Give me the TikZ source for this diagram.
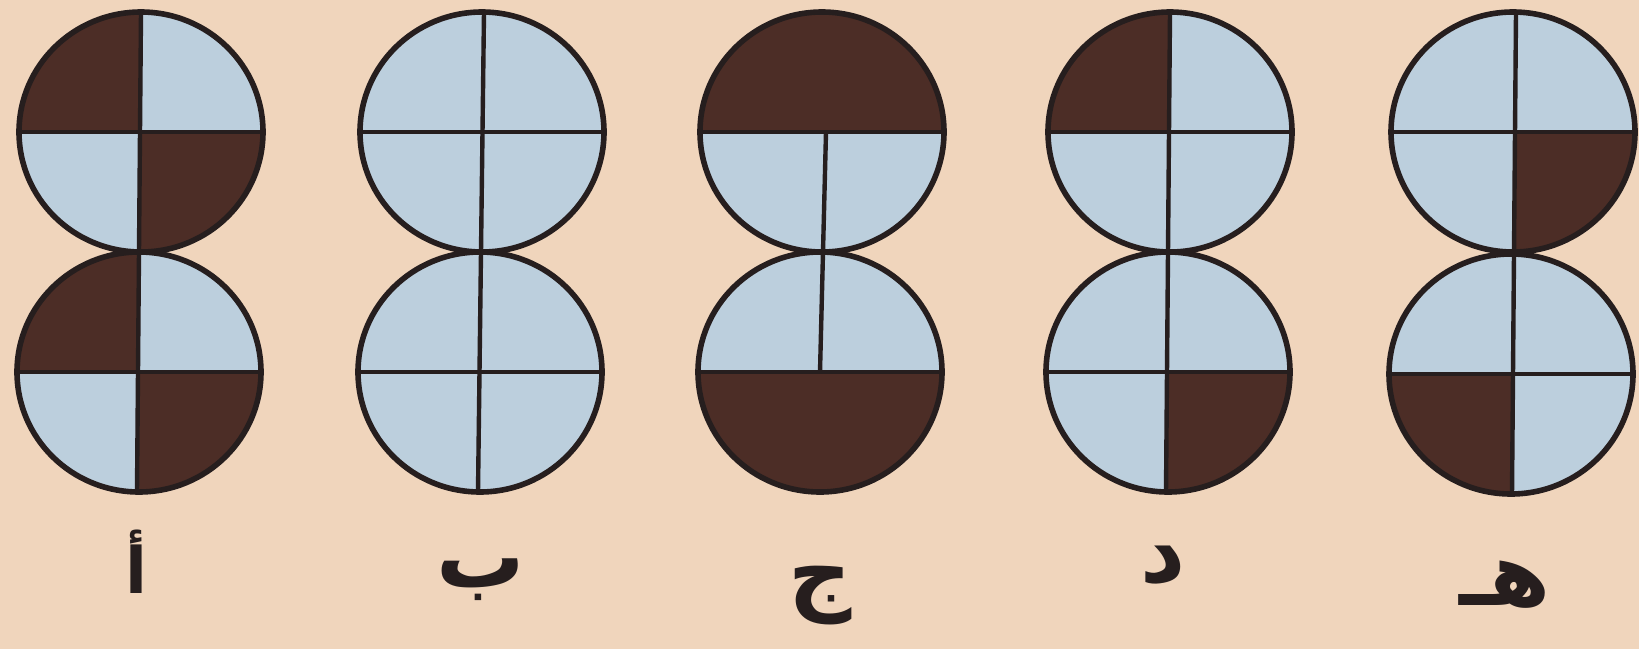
\documentclass[tikz,border=0pt]{standalone}
\usepackage{fontspec}
\newfontfamily\arabicfont[Script=Arabic]{DejaVu Sans}
\TeXXeTstate=1
\definecolor{bg}{RGB}{240,213,188}
\definecolor{lb}{RGB}{188,207,221}
\definecolor{dk}{RGB}{76,45,38}
\definecolor{ln}{RGB}{38,30,30}
\tikzset{x=0.5pt,y=-0.5pt,
  rim/.style={draw=ln,line width=2.8pt},
  cross/.style={draw=ln,line width=2.2pt},
  lbl/.style={font=\arabicfont\bfseries\fontsize{44}{50}\selectfont,text=ln,inner sep=0pt},
  lblsmall/.style={font=\arabicfont\bfseries\fontsize{32}{38}\selectfont,text=ln,inner sep=0pt}}
% #1 x, #2 y, #3 TL, #4 TR, #5 BL, #6 BR
\newcommand\quaddisc[6]{%
  \begin{scope}
    \clip (#1,#2) ellipse [x radius=122, y radius=120];
    \fill[#3] (#1-130,#2-130) rectangle (#1,#2);
    \fill[#4] (#1,#2-130) rectangle (#1+130,#2);
    \fill[#5] (#1-130,#2) rectangle (#1,#2+130);
    \fill[#6] (#1,#2) rectangle (#1+130,#2+130);
  \end{scope}}
\newcommand\rimdisc[2]{\draw[rim] (#1,#2) ellipse [x radius=122, y radius=120];}
\begin{document}
\begin{tikzpicture}
\fill[bg] (0,0) rectangle (1639,649);
\useasboundingbox (0,0) rectangle (1639,649);
% ---- A
\quaddisc{141}{132}{dk}{lb}{lb}{dk}
\quaddisc{139}{372}{dk}{lb}{lb}{dk}
\draw[cross] (19,132) -- (263,132);
\draw[cross] (17,372) -- (261,372);
\draw[cross] (141,12) -- (137,492);
\rimdisc{141}{132}\rimdisc{139}{372}
% ---- B
\quaddisc{482}{132}{lb}{lb}{lb}{lb}
\quaddisc{480}{372}{lb}{lb}{lb}{lb}
\draw[cross] (360,132) -- (604,132);
\draw[cross] (358,372) -- (602,372);
\draw[cross] (484,12) -- (478,492);
\rimdisc{482}{132}\rimdisc{480}{372}
% ---- C
\quaddisc{822}{132}{dk}{dk}{lb}{lb}
\quaddisc{820}{372}{lb}{lb}{dk}{dk}
\draw[cross] (700,132) -- (944,132);
\draw[cross] (698,372) -- (942,372);
\draw[cross] (826,132) -- (820,372);
\rimdisc{822}{132}\rimdisc{820}{372}
% ---- D
\quaddisc{1170}{132}{dk}{lb}{lb}{lb}
\quaddisc{1168}{372}{lb}{lb}{lb}{dk}
\draw[cross] (1048,132) -- (1292,132);
\draw[cross] (1046,372) -- (1290,372);
\draw[cross] (1170,12) -- (1166,492);
\rimdisc{1170}{132}\rimdisc{1168}{372}
% ---- E
\quaddisc{1513}{132}{lb}{lb}{lb}{dk}
\quaddisc{1511}{374}{lb}{lb}{dk}{lb}
\draw[cross] (1391,132) -- (1635,132);
\draw[cross] (1389,374) -- (1633,374);
\draw[cross] (1516,12) -- (1512,494);
\rimdisc{1513}{132}\rimdisc{1511}{374}
% ---- labels
\node[lblsmall] (la) at (136,562) {\beginR أ\endR};
\node[lbl] (lb) at (481,580) {\beginR ب\endR};
\node[lbl] (lc) at (820,596) {\beginR ج\endR};
\node[lbl] (ld) at (1163,565) {\beginR د\endR};
\node[lbl] (le) at (1505,585) {\beginR هـ\endR};
\end{tikzpicture}
\end{document}
